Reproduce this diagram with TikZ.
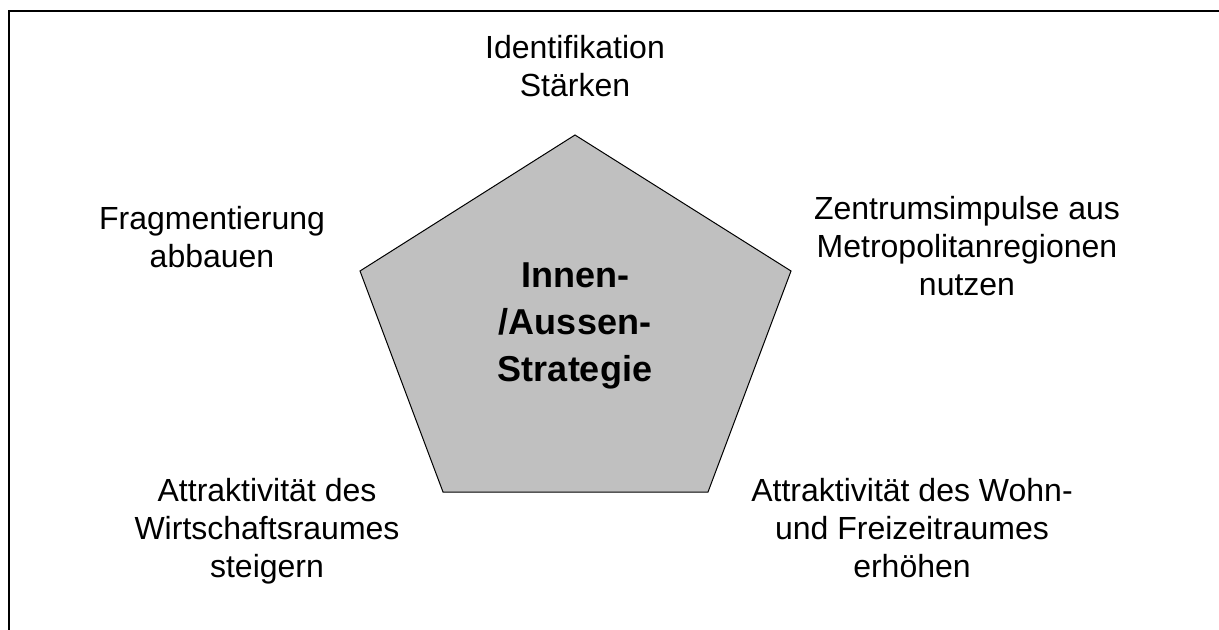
\documentclass[tikz,border=0pt]{standalone}
\usepackage{fontspec}
\setmainfont{Liberation Sans}
\usepackage{xcolor}
\definecolor{pentagray}{RGB}{192, 192, 192}

\begin{document}
\begin{tikzpicture}[x=0.5pt, y=-0.5pt]
    % Define styles
    \tikzstyle{goal} = [align=center, inner sep=0pt, anchor=north, font=\fontsize{16}{19}\selectfont]
    \tikzstyle{core} = [align=center, inner sep=0pt, anchor=north, font=\fontsize{18}{23.5}\selectfont\bfseries]

    \useasboundingbox (0,0) rectangle (1219,630);

    % Frame (top and left only)
    \coordinate (frameBL) at (9,630);
    \coordinate (frameTL) at (9,11);
    \coordinate (frameTR) at (1219,11);
    \draw[line width=1pt] (frameBL) -- (frameTL) -- (frameTR);

    % Pentagon
    \coordinate (pTop) at (575,135);
    \coordinate (pRight) at (791,271);
    \coordinate (pBotRight) at (708,492);
    \coordinate (pBotLeft) at (443,492);
    \coordinate (pLeft) at (360,271);
    \draw[fill=pentagray, line width=0.5pt] (pTop) -- (pRight) -- (pBotRight) -- (pBotLeft) -- (pLeft) -- cycle;

    % Nodes
    \node[core] (strategy) at (575,262) {Innen-\\/Aussen-\\Strategie};
    \node[goal] (identity) at (575,35) {Identifikation\\Stärken};
    \node[goal] (fragment) at (212,206) {Fragmentierung\\abbauen};
    \node[goal] (metro) at (967,196) {Zentrumsimpulse aus\\Metropolitanregionen\\nutzen};
    \node[goal] (economy) at (267,478) {Attraktivität des\\Wirtschaftsraumes\\steigern};
    \node[goal] (living) at (912,478) {Attraktivität des Wohn-\\und Freizeitraumes\\erhöhen};
\end{tikzpicture}
\end{document}
